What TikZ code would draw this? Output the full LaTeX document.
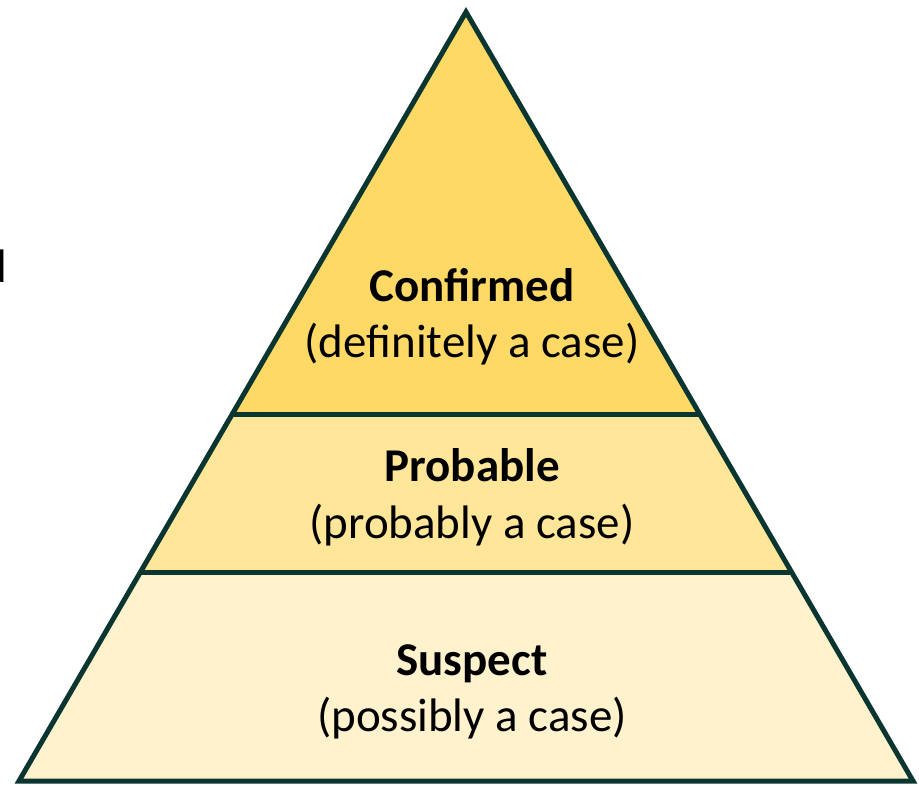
\documentclass[tikz,border=0pt]{standalone}
\usepackage{fontspec}
\setmainfont{Carlito}
\usetikzlibrary{calc}
\definecolor{edge}{HTML}{0A3530}
\definecolor{tierA}{HTML}{FFD966}
\definecolor{tierB}{HTML}{FFE699}
\definecolor{tierC}{HTML}{FFF2CC}
\begin{document}
\begin{tikzpicture}[x=1pt,y=-1pt,
  outline/.style={draw=edge,line width=5pt,line join=miter},
  head/.style={font=\fontsize{47}{56}\selectfont\bfseries,anchor=base,inner sep=0pt},
  sub/.style={font=\fontsize{47}{56}\selectfont,anchor=base,inner sep=0pt}]
\useasboundingbox (0,0) rectangle (919,786);
% corners of the pyramid and the tier boundaries
\coordinate (apex) at (466,12);
\coordinate (bl) at (19,781);
\coordinate (br) at (913,781);
\coordinate (l1) at ($(apex)!{403/769}!(bl)$);
\coordinate (r1) at ($(apex)!{403/769}!(br)$);
\coordinate (l2) at ($(apex)!{561/769}!(bl)$);
\coordinate (r2) at ($(apex)!{561/769}!(br)$);
% tier fills
\fill[tierA] (apex) -- (r1) -- (l1) -- cycle;
\fill[tierB] (l1) -- (r1) -- (r2) -- (l2) -- cycle;
\fill[tierC] (l2) -- (r2) -- (br) -- (bl) -- cycle;
% outline and dividers
\draw[outline] (apex) -- (br) -- (bl) -- cycle;
\draw[outline] (l1) -- (r1);
\draw[outline] (l2) -- (r2);
% labels
\node[head] (conf) at (472,302) {Confirmed};
\node[sub] (confs) at (472,358) {(definitely a case)};
\node[head] (prob) at (472,481) {Probable};
\node[sub] (probs) at (472,538) {(probably a case)};
\node[head] (susp) at (472,675) {Suspect};
\node[sub] (susps) at (472,731) {(possibly a case)};
% text running in from the left edge
\node[sub,anchor=base east] (edgetext) at (7,283) {d};
\end{tikzpicture}
\end{document}
